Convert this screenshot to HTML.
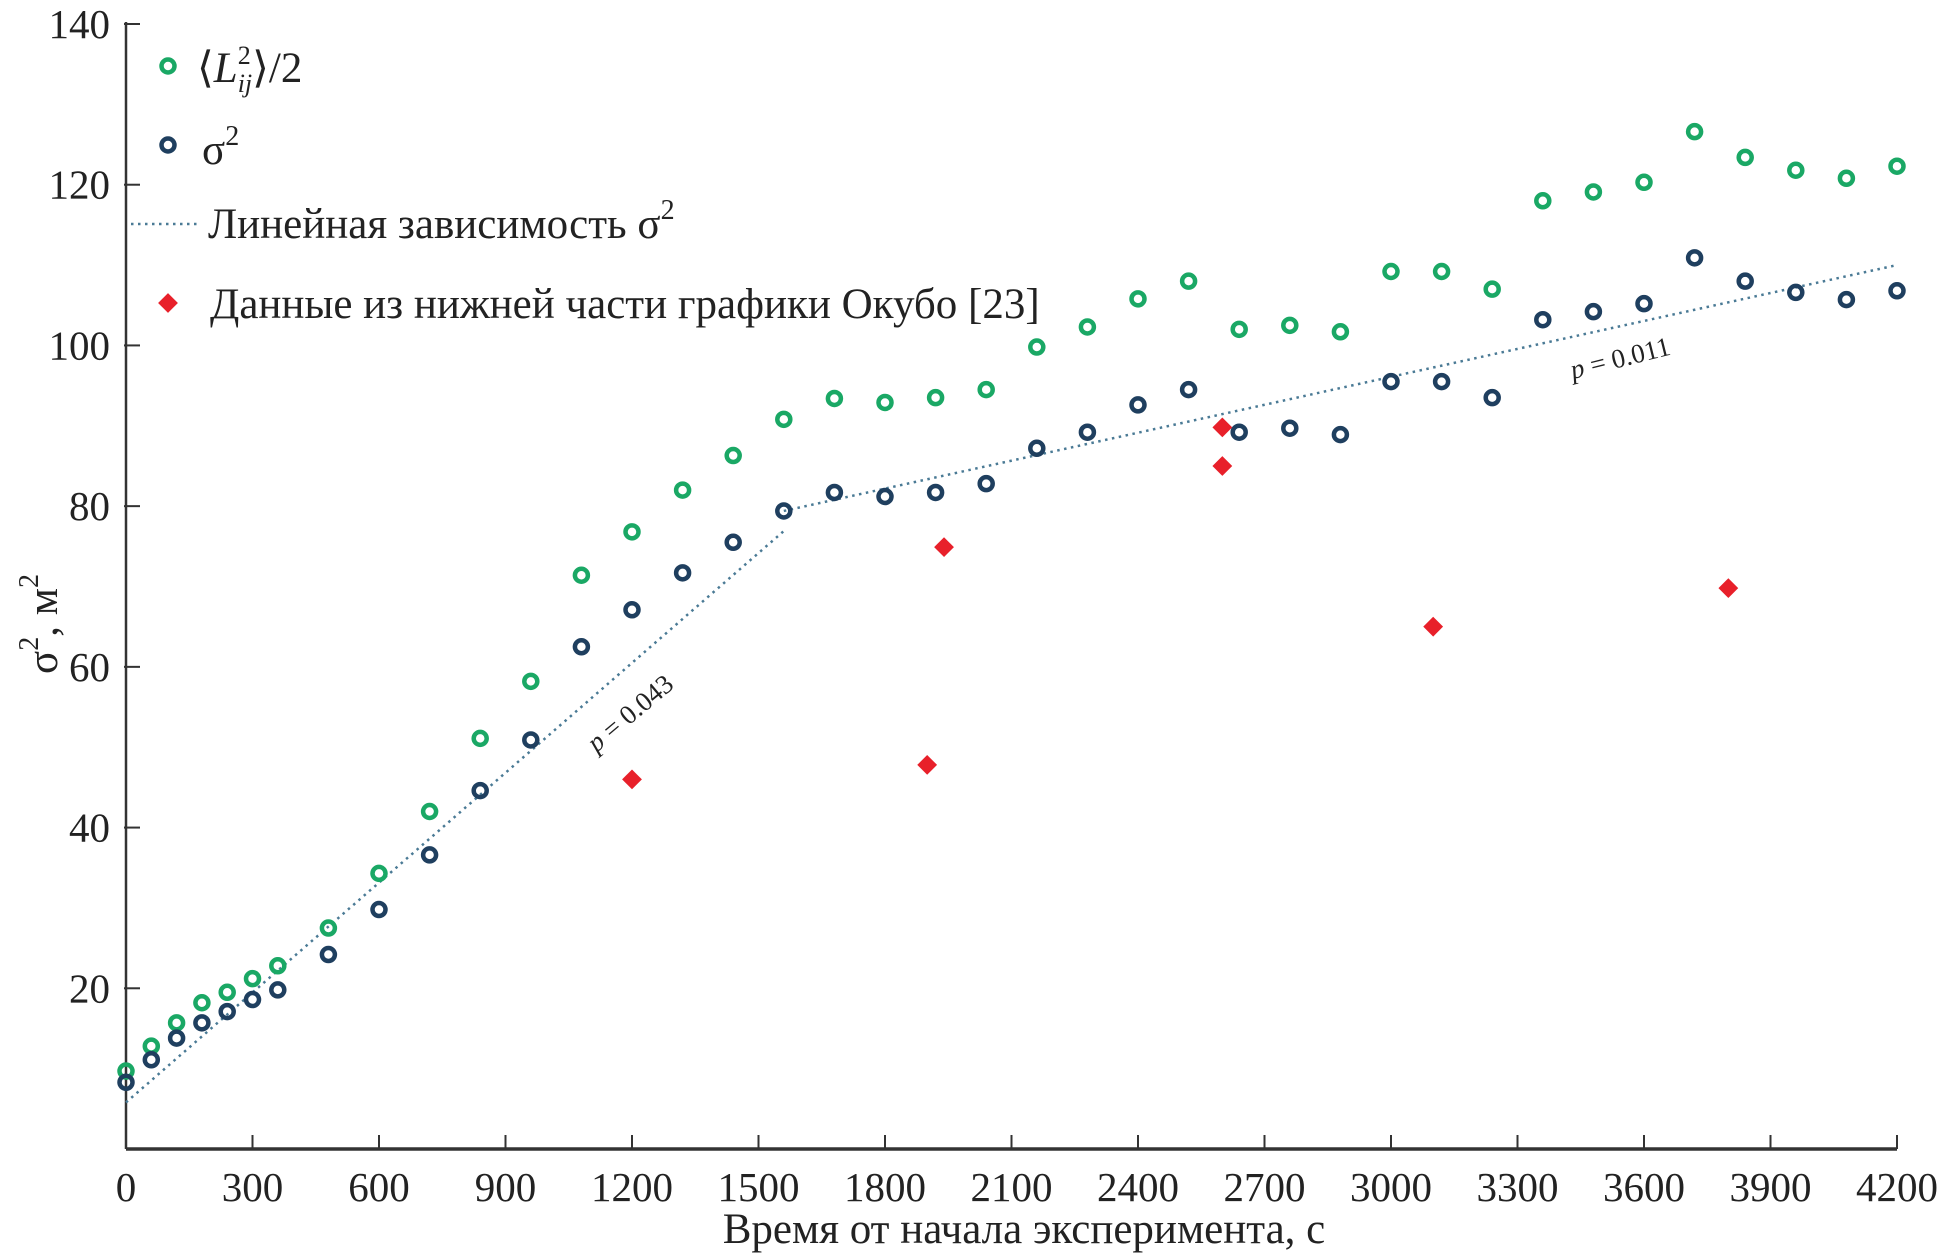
<!DOCTYPE html>
<html><head><meta charset="utf-8"><style>
html,body{margin:0;padding:0;background:#fff;}
svg{display:block;font-family:"Liberation Serif",serif;}
</style></head><body>
<svg id="chart" width="1938" height="1255" viewBox="0 0 1938 1255" xmlns="http://www.w3.org/2000/svg">
<g id="axes"></g>
<g id="marks"></g>
<g id="legend">
  <circle cx="168" cy="66" r="6.5" fill="none" stroke="#1aa865" stroke-width="4.5"/>
  <text x="197" y="82" font-size="43" fill="#222">⟨<tspan font-style="italic">L</tspan><tspan font-size="26" dy="-18">2</tspan><tspan font-size="26" font-style="italic" dx="-13" dy="28">ij</tspan><tspan dy="-10">⟩/2</tspan></text>
  <circle cx="168" cy="145" r="6.5" fill="none" stroke="#1f3f5f" stroke-width="4.5"/>
  <text x="202" y="164" font-size="43" fill="#222">σ<tspan font-size="28" dy="-19">2</tspan></text>
  <line x1="131" y1="224" x2="200" y2="224" stroke="#4a7a95" stroke-width="2.5" stroke-dasharray="2.5,4.5"/>
  <text x="208" y="238" font-size="43" fill="#222">Линейная зависимость σ<tspan font-size="28" dy="-19">2</tspan></text>
  <rect x="161" y="296" width="14" height="14" fill="#e8202a" transform="rotate(45 168 303)"/>
  <text x="210" y="318" font-size="43" fill="#222">Данные из нижней части графики Окубо [23]</text>
</g>
<text x="630" y="722" font-size="27" text-anchor="middle" fill="#222" transform="rotate(-40 630 713)"><tspan font-style="italic">p</tspan> = 0.043</text>
<text x="1620" y="367" font-size="27" text-anchor="middle" fill="#222" transform="rotate(-14 1620 357)"><tspan font-style="italic">p</tspan> = 0.011</text>
<text x="1024" y="1243" font-size="43" text-anchor="middle" fill="#222">Время от начала эксперимента, с</text>
<text x="0" y="0" font-size="43" text-anchor="middle" fill="#222" transform="translate(57 624) rotate(-90)">σ<tspan font-size="28" dy="-19">2</tspan><tspan dy="19">, м</tspan><tspan font-size="28" dy="-19">2</tspan></text>
</svg>
<script>
const times = [0,60,120,180,240,300,360,480,600,720,840,960,1080,1200,1320,1440,1560,1680,1800,1920,2040,2160,2280,2400,2520,2640,2760,2880,3000,3120,3240,3360,3480,3600,3720,3840,3960,4080,4200];
const l2Values = [9.7,12.8,15.7,18.2,19.5,21.2,22.8,27.5,34.3,42,51.1,58.2,71.4,76.8,82,86.3,90.8,93.4,92.9,93.5,94.5,99.8,102.3,105.8,108,102,102.5,101.7,109.2,109.2,107,118,119.1,120.3,126.6,123.4,121.8,120.8,122.3];
const sigmaValues = [8.3,11.1,13.8,15.7,17.1,18.6,19.8,24.2,29.8,36.6,44.6,50.9,62.5,67.1,71.7,75.5,79.4,81.7,81.2,81.7,82.8,87.2,89.2,92.6,94.5,89.2,89.7,88.9,95.5,95.5,93.5,103.2,104.2,105.2,110.9,108,106.6,105.7,106.8];
const okuboTimes = [1200,1900,1940,2600,2600,3100,3800];
const okuboValues = [46,47.8,74.9,89.8,85,65,69.8];
const fit1Times = [0,1560];
const fit1Values = [5.8,76.9];
const fit2Times = [1560,4200];
const fit2Values = [79.4,110];
const xTicks = [0,300,600,900,1200,1500,1800,2100,2400,2700,3000,3300,3600,3900,4200];
const yTicks = [20,40,60,80,100,120,140];

const X0=126, X1=1897, Y0=1149, Ytop=24;
const sx = t => X0 + (t/4200)*(X1-X0);
const sy = v => Y0 - (v/140)*(Y0-Ytop);
const NS="http://www.w3.org/2000/svg";
function mk(tag, attrs, parent){const e=document.createElementNS(NS,tag);for(const k in attrs)e.setAttribute(k,attrs[k]);parent.appendChild(e);return e;}
const axes=document.getElementById('axes'), marks=document.getElementById('marks');

let e=mk('line',{x1:X0,y1:Y0,x2:X1,y2:Y0,stroke:'#333','stroke-width':3.5},axes);


e=mk('line',{x1:X0,y1:Ytop-2,x2:X0,y2:Y0,stroke:'#333','stroke-width':2.5},axes);


xTicks.forEach(t=>{
  const x=sx(t);
  if(t>0){
    const tk=mk('line',{x1:x,y1:Y0,x2:x,y2:Y0-14,stroke:'#333','stroke-width':2},axes);
    
    
  }
  const lb=mk('text',{x:x,y:1201,'font-size':41,'text-anchor':'middle',fill:'#222'},axes);
  lb.textContent=t;
  
  
});
yTicks.forEach(v=>{
  const y=sy(v);
  const tk=mk('line',{x1:X0-2,y1:y,x2:X0+14,y2:y,stroke:'#333','stroke-width':2},axes);
  
  
  const lb=mk('text',{x:110,y:y+14,'font-size':41,'text-anchor':'end',fill:'#222'},axes);
  lb.textContent=v;
  
  
});

[[fit1Times,fit1Values],[fit2Times,fit2Values]].forEach(([ts,vs],i)=>{
  const l=mk('line',{x1:sx(ts[0]),y1:sy(vs[0]),x2:sx(ts[1]),y2:sy(vs[1]),stroke:'#4a7a95','stroke-width':2.5,'stroke-dasharray':'2.5,4.5'},marks);
  
  
});
times.forEach((t,i)=>{
  const c=mk('circle',{cx:sx(t),cy:sy(l2Values[i]),r:6.5,fill:'none',stroke:'#1aa865','stroke-width':4.5},marks);
  
  
});
times.forEach((t,i)=>{
  const c=mk('circle',{cx:sx(t),cy:sy(sigmaValues[i]),r:6.5,fill:'none',stroke:'#1f3f5f','stroke-width':4.5},marks);
  
  
});
okuboTimes.forEach((t,i)=>{
  const x=sx(t), y=sy(okuboValues[i]);
  const r=mk('rect',{x:x-7,y:y-7,width:14,height:14,fill:'#e8202a',transform:`rotate(45 ${x} ${y})`},marks);
  
  
});
</script>
</body></html>
